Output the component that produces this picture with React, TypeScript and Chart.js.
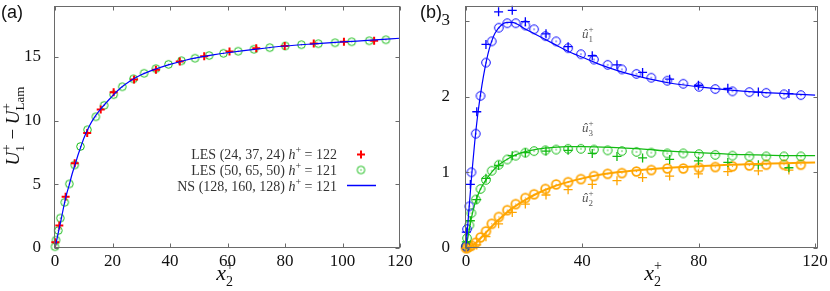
import React, { useEffect, useRef } from 'react';
import { Chart, registerables } from 'chart.js';
Chart.register(...registerables);

// ---------- Panel (a) ----------
const A_X_TICKS = [0, 20, 40, 60, 80, 100, 120];
const A_Y_TICKS = [0, 5, 10, 15];
const A_GRID24 = [0.1, 1.5, 3.7, 6.86, 11.2, 15.9, 20.4, 27.5, 35.1, 43.4, 51.9, 60.7, 70.0, 79.9, 90.0, 100.5, 111.0];
const A_LES24 = [0.46, 1.76, 4.02, 6.65, 9.03, 10.88, 12.22, 13.23, 14.0, 14.65, 15.06, 15.42, 15.68, 15.86, 16.06, 16.19, 16.27];
const A_GRID50 = [0, 0.35, 1.15, 1.85, 3.37, 5.0, 6.86, 8.85, 11.3, 14.2, 17.1, 20.4, 23.4, 27.3, 31.0, 35.1, 39.5, 44.0, 48.7, 53.6, 58.6, 63.7, 69.2, 74.7, 80.1, 85.7, 91.6, 97.4, 103.2, 109.3, 115.1];
const A_LES50 = [0.1, 0.62, 1.37, 2.35, 3.59, 5.03, 6.52, 7.97, 9.28, 10.3, 11.2, 12.04, 12.66, 13.28, 13.72, 14.08, 14.42, 14.7, 14.9, 15.11, 15.29, 15.45, 15.6, 15.73, 15.86, 15.96, 16.04, 16.11, 16.19, 16.27, 16.35];
const A_NS_X = [0, 1, 2, 3, 4, 5, 6, 7, 8, 9, 10, 12, 14, 16, 18, 20, 23, 26, 30, 35, 40, 45, 50, 55, 60, 70, 80, 90, 100, 110, 120];
const A_NS_Y = [0, 1.05, 2.1, 3.2, 4.2, 5.0, 5.85, 6.55, 7.3, 7.95, 8.6, 9.6, 10.35, 10.95, 11.45, 11.95, 12.6, 13.1, 13.6, 14.05, 14.42, 14.72, 14.96, 15.16, 15.33, 15.62, 15.86, 16.03, 16.18, 16.32, 16.47];

// ---------- Panel (b) ----------
const B_X_TICKS = [0, 40, 80, 120];
const B_Y_TICKS = [0, 1, 2, 3];
const B_GRID24 = [0.1, 1.5, 3.7, 6.86, 11.2, 15.9, 20.4, 27.5, 35.1, 43.4, 51.9, 60.7, 70.0, 79.9, 90.0, 100.5, 111.0];
const B_GRID50 = [0, 0.35, 1.15, 1.85, 3.37, 5.0, 6.86, 8.85, 11.3, 14.2, 17.1, 20.4, 23.4, 27.3, 31.0, 35.1, 39.5, 44.0, 48.7, 53.6, 58.6, 63.7, 69.2, 74.7, 80.1, 85.7, 91.6, 97.4, 103.2, 109.3, 115.1];
const B_U1_LES24 = [0.21, 0.84, 1.80, 2.69, 3.12, 3.14, 2.99, 2.83, 2.66, 2.54, 2.42, 2.32, 2.23, 2.15, 2.11, 2.06, 2.04];
const B_U3_LES24 = [0.08, 0.36, 0.64, 0.92, 1.09, 1.22, 1.26, 1.28, 1.29, 1.25, 1.21, 1.19, 1.17, 1.15, 1.13, 1.10, 1.06];
const B_U2_LES24 = [0.0, 0.01, 0.04, 0.15, 0.32, 0.47, 0.58, 0.70, 0.77, 0.84, 0.89, 0.93, 0.95, 0.98, 1.01, 1.02, 1.03];
const B_U1_LES50 = [0.02, 0.25, 0.55, 1.0, 1.51, 2.01, 2.45, 2.73, 2.91, 2.97, 2.97, 2.94, 2.89, 2.80, 2.73, 2.64, 2.56, 2.49, 2.42, 2.36, 2.30, 2.25, 2.21, 2.17, 2.13, 2.10, 2.07, 2.06, 2.05, 2.03, 2.02];
const B_U3_LES50 = [0.03, 0.13, 0.3, 0.46, 0.64, 0.78, 0.9, 1.02, 1.1, 1.17, 1.22, 1.26, 1.28, 1.29, 1.30, 1.31, 1.31, 1.30, 1.29, 1.28, 1.27, 1.26, 1.25, 1.25, 1.24, 1.23, 1.22, 1.21, 1.21, 1.21, 1.21];
const B_U2_LES50 = [0, 0, 0.02, 0.03, 0.07, 0.14, 0.22, 0.32, 0.41, 0.5, 0.58, 0.66, 0.71, 0.78, 0.84, 0.87, 0.91, 0.95, 0.98, 0.99, 1.01, 1.03, 1.05, 1.05, 1.06, 1.07, 1.08, 1.09, 1.1, 1.1, 1.1];
const B_U1_NS_X = [0, 0.5, 1, 2, 3, 4, 5, 6, 7, 8, 9, 10, 12, 14, 16, 18, 20, 23, 26, 30, 35, 40, 45, 50, 55, 60, 70, 80, 90, 100, 110, 120];
const B_U1_NS = [0, 0.25, 0.5, 0.98, 1.4, 1.75, 2.03, 2.27, 2.47, 2.63, 2.75, 2.84, 2.94, 2.98, 2.98, 2.95, 2.9, 2.84, 2.78, 2.7, 2.6, 2.52, 2.44, 2.37, 2.31, 2.26, 2.18, 2.13, 2.09, 2.06, 2.04, 2.02];
const B_U3_NS_X = [0, 1, 2, 3, 4, 5, 7, 9, 11, 14, 17, 20, 25, 30, 35, 40, 50, 60, 70, 80, 90, 100, 110, 120];
const B_U3_NS = [0, 0.22, 0.42, 0.58, 0.69, 0.78, 0.91, 1.01, 1.09, 1.17, 1.23, 1.27, 1.31, 1.33, 1.34, 1.34, 1.33, 1.31, 1.28, 1.26, 1.24, 1.23, 1.22, 1.22];
const B_U2_NS_X = [0, 2, 4, 6, 8, 10, 12, 15, 18, 21, 25, 30, 35, 40, 45, 50, 60, 70, 80, 90, 100, 110, 120];
const B_U2_NS = [0, 0.03, 0.09, 0.17, 0.25, 0.33, 0.4, 0.5, 0.58, 0.65, 0.73, 0.81, 0.87, 0.92, 0.96, 0.99, 1.03, 1.06, 1.08, 1.1, 1.11, 1.12, 1.13];

const BLUE = '#0000ff';
const RED = '#ff0000';
const GREEN = '#12bb12';
const ORANGE = '#ffa500';
const SERIF = 'Liberation Serif';

const pts = (xs: number[], ys: number[]) => xs.map((x, i) => ({ x, y: ys[i] }));

function circleImg(color: string, r: number, lw: number) {
  const c = document.createElement('canvas');
  const s = Math.ceil(2 * r + lw + 2);
  c.width = s;
  c.height = s;
  const ctx = c.getContext('2d')!;
  ctx.strokeStyle = color;
  ctx.lineWidth = lw;
  ctx.beginPath();
  ctx.arc(s / 2, s / 2, r, 0, Math.PI * 2);
  ctx.stroke();
  ctx.fillStyle = color;
  ctx.fillRect(s / 2 - 0.6, s / 2 - 0.6, 1.2, 1.2);
  return c;
}

type Seg = { t: string; f: string; dy?: number } | { sup: string; sub: string; f: string; dsup: number; dsub: number };

function drawMath(ctx: CanvasRenderingContext2D, segs: Seg[], x: number, y: number, align: string, color: string) {
  const widths = segs.map((s: any) => {
    ctx.font = s.f;
    if ('t' in s) return ctx.measureText(s.t).width;
    return Math.max(ctx.measureText(s.sup).width, ctx.measureText(s.sub).width);
  });
  const total = widths.reduce((a, b) => a + b, 0);
  let cx = align === 'left' ? x : align === 'center' ? x - total / 2 : x - total;
  ctx.fillStyle = color;
  ctx.textBaseline = 'alphabetic';
  ctx.textAlign = 'left';
  segs.forEach((s: any, i) => {
    ctx.font = s.f;
    if ('t' in s) ctx.fillText(s.t, cx, y + (s.dy || 0));
    else {
      ctx.fillText(s.sup, cx, y + s.dsup);
      ctx.fillText(s.sub, cx, y + s.dsub);
    }
    cx += widths[i];
  });
}

function framePlugin(xt: number[], yt: number[], extra: (ctx: CanvasRenderingContext2D, chart: any) => void) {
  return {
    id: 'frame',
    afterDraw(chart: any) {
      const { ctx, chartArea } = chart;
      const { left, right, top, bottom } = chartArea;
      const xs = chart.scales.x;
      const ys = chart.scales.y;
      ctx.save();
      ctx.strokeStyle = '#6a6a6a';
      ctx.lineWidth = 1;
      const L = Math.round(left) - 0.5, R = Math.round(right) - 0.5, T = Math.round(top) + 0.5, B = Math.round(bottom) - 0.5;
      ctx.strokeRect(L, T, R - L, B - T);
      const tl = 4;
      ctx.beginPath();
      xt.forEach((v) => {
        const p = Math.round(xs.getPixelForValue(v)) + 0.5;
        ctx.moveTo(p, B); ctx.lineTo(p, B - tl);
        ctx.moveTo(p, T); ctx.lineTo(p, T + tl);
      });
      yt.forEach((v) => {
        const p = Math.round(ys.getPixelForValue(v)) + 0.5;
        ctx.moveTo(L, p); ctx.lineTo(L + tl, p);
        ctx.moveTo(R, p); ctx.lineTo(R - tl, p);
      });
      ctx.stroke();
      extra(ctx, chart);
      ctx.restore();
    },
  };
}

function scaleOpts(min: number, max: number, ticks: number[], size: number, isX: boolean, pad: number) {
  return {
    type: 'linear',
    min,
    max,
    grid: { display: false },
    border: { display: false },
    afterBuildTicks: (s: any) => { s.ticks = ticks.map((v) => ({ value: v })); },
    afterFit: (s: any) => {
      if (isX) s.height = size; else s.width = size;
      s.paddingLeft = 0; s.paddingRight = 0; s.paddingTop = 0; s.paddingBottom = 0;
    },
    ticks: {
      font: { family: SERIF, size: 17 },
      color: '#111',
      padding: pad,
      autoSkip: false,
      maxRotation: 0,
      callback: (v: any) => String(v),
    },
  };
}

function xTitle(ctx: CanvasRenderingContext2D, cx: number) {
  drawMath(ctx, [
    { t: 'x', f: `italic 22px ${SERIF}` },
    { sup: '+', sub: '2', f: `14px ${SERIF}`, dsup: -10, dsub: 6 },
  ], cx, 280, 'center', '#111');
}

function PanelA() {
  const ref = useRef<HTMLCanvasElement>(null);
  useEffect(() => {
    const cross = { pointStyle: 'cross', pointRadius: 4, borderWidth: 2, borderColor: RED, backgroundColor: RED };
    const circ = circleImg(GREEN, 3.8, 1);
    const chart = new Chart(ref.current!, {
      type: 'scatter',
      data: {
        datasets: [
          { data: pts(A_NS_X, A_NS_Y), showLine: true, borderColor: BLUE, borderWidth: 1.2, pointRadius: 0, cubicInterpolationMode: 'monotone', order: 0, clip: false } as any,
          { data: pts(A_GRID24, A_LES24), ...cross, order: 1, clip: false } as any,
          { data: pts(A_GRID50, A_LES50), pointStyle: circ, pointRadius: 4, order: 2, clip: false } as any,
        ],
      },
      options: {
        animation: false,
        responsive: false,
        maintainAspectRatio: false,
        events: [],
        layout: { padding: { left: 0, right: 15, top: 3, bottom: 0 } },
        plugins: { legend: { display: false }, tooltip: { enabled: false } },
        scales: {
          x: scaleOpts(0, 120, A_X_TICKS, 43, true, -5),
          y: scaleOpts(0, 19, A_Y_TICKS, 55, false, 6),
        } as any,
      },
      plugins: [framePlugin(A_X_TICKS, A_Y_TICKS, (ctx) => {
        ctx.fillStyle = '#111';
        ctx.font = '18px Liberation Sans';
        ctx.textBaseline = 'middle';
        ctx.textAlign = 'left';
        ctx.fillText('(a)', 1, 13);
        xTitle(ctx, 225);
        // y title
        ctx.save();
        ctx.translate(19, 126);
        ctx.rotate(-Math.PI / 2);
        drawMath(ctx, [
          { t: 'U', f: `italic 19px ${SERIF}` },
          { sup: '+', sub: '1', f: `13px ${SERIF}`, dsup: -8, dsub: 5 },
          { t: ' \u2212 ', f: `19px ${SERIF}` },
          { t: 'U', f: `italic 19px ${SERIF}` },
          { sup: '+', sub: 'Lam', f: `13px ${SERIF}`, dsup: -8, dsub: 5 },
        ], 0, 0, 'center', '#111');
        ctx.restore();
        // legend
        const lf = `14px ${SERIF}`;
        const rows = [
          ['LES (24, 37, 24) ', ' = 122', 154],
          ['LES (50, 65, 50) ', ' = 121', 170],
          ['NS (128, 160, 128) ', ' = 121', 186],
        ] as any[];
        rows.forEach((r) => {
          drawMath(ctx, [
            { t: r[0], f: lf },
            { t: 'h', f: `italic 14px ${SERIF}` },
            { t: '+', f: `10px ${SERIF}`, dy: -6 },
            { t: r[1], f: lf },
          ], 337, r[2] + 5, 'right', '#333');
        });
        ctx.strokeStyle = RED; ctx.lineWidth = 2;
        ctx.beginPath(); ctx.moveTo(357, 154.5); ctx.lineTo(365, 154.5); ctx.moveTo(361, 150.5); ctx.lineTo(361, 158.5); ctx.stroke();
        ctx.drawImage(circ, 361 - circ.width / 2, 170 - circ.height / 2);
        ctx.strokeStyle = BLUE; ctx.lineWidth = 1.5;
        ctx.beginPath(); ctx.moveTo(347, 185.5); ctx.lineTo(376, 185.5); ctx.stroke();
      })],
    } as any);
    return () => chart.destroy();
  }, []);
  return <canvas ref={ref} width={415} height={291} style={{ position: 'absolute', left: 0, top: 0 }} />;
}

function PanelB() {
  const ref = useRef<HTMLCanvasElement>(null);
  useEffect(() => {
    const cross = (c: string) => ({ pointStyle: 'cross', pointRadius: 4.5, borderWidth: 1.3, borderColor: c, backgroundColor: c, clip: false });
    const line = (c: string, w: number) => ({ showLine: true, borderColor: c, borderWidth: w, pointRadius: 0, cubicInterpolationMode: 'monotone', clip: false });
    const cB = circleImg(BLUE, 4.3, 1);
    const cG = circleImg(GREEN, 4.3, 1);
    const cO = circleImg(ORANGE, 4.3, 1.8);
    const chart = new Chart(ref.current!, {
      type: 'scatter',
      data: {
        datasets: [
          { data: pts(B_U1_NS_X, B_U1_NS), ...line(BLUE, 1.2), order: 0 } as any,
          { data: pts(B_U3_NS_X, B_U3_NS), ...line(GREEN, 1.3), order: 0 } as any,
          { data: pts(B_U2_NS_X, B_U2_NS), ...line(ORANGE, 2), order: 0 } as any,
          { data: pts(B_GRID24, B_U1_LES24), ...cross(BLUE), order: 1 } as any,
          { data: pts(B_GRID24, B_U3_LES24), ...cross(GREEN), order: 1 } as any,
          { data: pts(B_GRID24, B_U2_LES24), ...cross(ORANGE), order: 1 } as any,
          { data: pts(B_GRID50, B_U1_LES50), pointStyle: cB, pointRadius: 4.5, order: 2, clip: false } as any,
          { data: pts(B_GRID50, B_U3_LES50), pointStyle: cG, pointRadius: 4.5, order: 2, clip: false } as any,
          { data: pts(B_GRID50, B_U2_LES50), pointStyle: cO, pointRadius: 4.5, order: 2, clip: false } as any,
        ],
      },
      options: {
        animation: false,
        responsive: false,
        maintainAspectRatio: false,
        events: [],
        layout: { padding: { left: 0, right: 12, top: 3, bottom: 0 } },
        plugins: { legend: { display: false }, tooltip: { enabled: false } },
        scales: {
          x: scaleOpts(0, 121, B_X_TICKS, 43, true, -5),
          y: scaleOpts(0, 3.2, B_Y_TICKS, 51, false, 8),
        } as any,
      },
      plugins: [framePlugin(B_X_TICKS, B_Y_TICKS, (ctx) => {
        ctx.fillStyle = '#111';
        ctx.font = '18px Liberation Sans';
        ctx.textBaseline = 'middle';
        ctx.textAlign = 'left';
        ctx.fillText('(b)', 5, 13);
        xTitle(ctx, 653 - 415);
        const lab = (sub: string, y: number) => drawMath(ctx, [
          { t: '\u00fb', f: `italic 13px ${SERIF}` },
          { sup: '+', sub, f: `9px ${SERIF}`, dsup: -6, dsub: 4 },
        ], 582 - 415, y, 'left', '#555');
        lab('1', 38);
        lab('3', 132);
        lab('2', 202);
      })],
    } as any);
    return () => chart.destroy();
  }, []);
  return <canvas ref={ref} width={415} height={291} style={{ position: 'absolute', left: 415, top: 0 }} />;
}

export default function App() {
  return (
    <div style={{ position: 'fixed', left: 0, top: 0, width: 830, height: 291, background: '#fff', overflow: 'hidden' }}>
      <PanelA />
      <PanelB />
    </div>
  );
}
